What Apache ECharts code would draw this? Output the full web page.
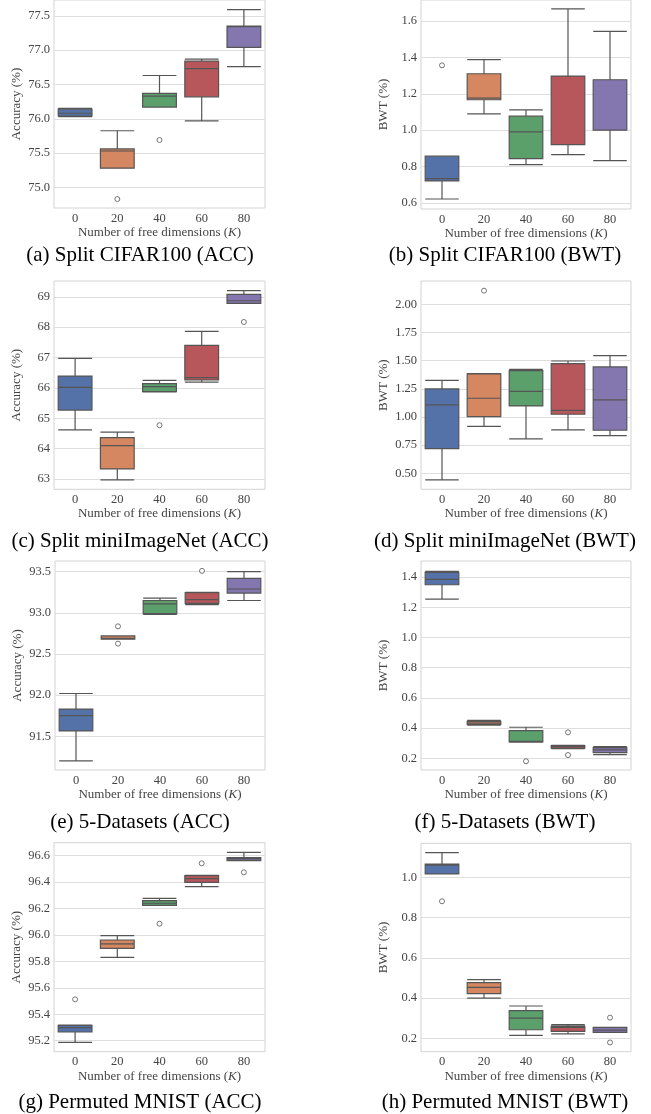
<!DOCTYPE html>
<html>
<head>
<meta charset="utf-8">
<script src="https://cdn.jsdelivr.net/npm/echarts@6/dist/echarts.min.js"></script>
<style>
html,body{margin:0;padding:0;background:#fff;}
#chart{width:651px;height:1114px;}
</style>
</head>
<body>
<div id="chart"></div>
<script>
// ---------------- data ----------------
const categories = ['0', '20', '40', '60', '80'];

// box stats per K: [lower whisker, Q1, median, Q3, upper whisker]
const statsA = [[76.03,76.04,76.08,76.14,76.15],[75.28,75.28,75.53,75.56,75.825],[76.17,76.17,76.33,76.37,76.63],[75.97,76.32,76.73,76.84,76.87],[76.76,77.04,77.34,77.35,77.59]];
const outliersA = [[1,74.83],[2,75.69]];
const ticksA = [75.0,75.5,76.0,76.5,77.0,77.5];

const statsB = [[0.622,0.721,0.734,0.857,0.857],[1.09,1.167,1.176,1.31,1.387],[0.811,0.844,0.991,1.077,1.112],[0.866,0.92,0.921,1.297,1.666],[0.833,1.0,1.001,1.277,1.543]];
const outliersB = [[0,1.356]];
const ticksB = [0.6,0.8,1.0,1.2,1.4,1.6];

const statsC = [[64.62,65.27,66.02,66.39,66.97],[62.97,63.33,64.10,64.36,64.54],[65.87,65.875,66.04,66.14,66.25],[66.19,66.26,66.34,67.40,67.86],[68.78,68.78,68.87,69.08,69.2]];
const outliersC = [[2,64.77],[4,68.17]];
const ticksC = [63,64,65,66,67,68,69];

const statsD = [[0.441,0.719,1.107,1.249,1.325],[0.917,1.003,1.166,1.382,1.385],[0.805,1.098,1.228,1.411,1.423],[0.885,1.024,1.059,1.473,1.497],[0.834,0.882,1.151,1.444,1.544]];
const outliersD = [[1,2.121]];
const ticksD = [0.5,0.75,1.0,1.25,1.5,1.75,2.0];

const statsE = [[91.20,91.565,91.75,91.83,92.02],[92.68,92.68,92.69,92.72,92.72],[92.98,92.99,93.11,93.15,93.18],[93.10,93.115,93.16,93.245,93.25],[93.15,93.24,93.29,93.42,93.5]];
const outliersE = [[1,92.836],[1,92.626],[3,93.51]];
const ticksE = [91.5,92.0,92.5,93.0,93.5];

const statsF = [[1.254,1.349,1.385,1.431,1.437],[0.419,0.425,0.434,0.445,0.452],[0.308,0.309,0.313,0.383,0.406],[0.264,0.267,0.278,0.284,0.286],[0.225,0.238,0.256,0.271,0.278]];
const outliersF = [[2,0.181],[3,0.372],[3,0.222]];
const ticksF = [0.2,0.4,0.6,0.8,1.0,1.2,1.4];

const statsG = [[95.188,95.266,95.299,95.316,95.319],[95.831,95.899,95.932,95.962,95.995],[96.224,96.224,96.24,96.26,96.277],[96.365,96.398,96.426,96.449,96.451],[96.562,96.562,96.575,96.585,96.625]];
const outliersG = [[0,95.513],[2,96.085],[3,96.542],[4,96.474]];
const ticksG = [95.2,95.4,95.6,95.8,96.0,96.2,96.4,96.6];

const statsH = [[1.017,1.017,1.06,1.066,1.123],[0.40,0.422,0.453,0.477,0.492],[0.215,0.243,0.301,0.338,0.361],[0.223,0.235,0.255,0.261,0.268],[0.23,0.23,0.241,0.255,0.255]];
const outliersH = [[0,0.881],[4,0.303],[4,0.18]];
const ticksH = [0.2,0.4,0.6,0.8,1.0];

const captions = ['(a) Split CIFAR100 (ACC)','(b) Split CIFAR100 (BWT)','(c) Split miniImageNet (ACC)','(d) Split miniImageNet (BWT)','(e) 5-Datasets (ACC)','(f) 5-Datasets (BWT)','(g) Permuted MNIST (ACC)','(h) Permuted MNIST (BWT)'];
const yNames = ['Accuracy (%)','BWT (%)','Accuracy (%)','BWT (%)','Accuracy (%)','BWT (%)','Accuracy (%)','BWT (%)'];
const xName = 'Number of free dimensions ({k|K})';

// ---------------- layout / style ----------------
const panels = [
  {stats:statsA, out:outliersA, ticks:ticksA, dec:1, min:74.70, max:77.73, left:54,  top:0,     w:211, h:208,   cap:255},
  {stats:statsB, out:outliersB, ticks:ticksB, dec:1, min:0.567, max:1.715, left:421, top:0,     w:210, h:209,   cap:255},
  {stats:statsC, out:outliersC, ticks:ticksC, dec:0, min:62.66, max:69.52, left:54,  top:281,   w:211, h:208.3, cap:541},
  {stats:statsD, out:outliersD, ticks:ticksD, dec:2, min:0.358, max:2.207, left:421, top:281,   w:210, h:208.3, cap:541},
  {stats:statsE, out:outliersE, ticks:ticksE, dec:1, min:91.09, max:93.63, left:55,  top:561,   w:210, h:209,   cap:822},
  {stats:statsF, out:outliersF, ticks:ticksF, dec:1, min:0.123, max:1.506, left:421, top:561,   w:210, h:209,   cap:822},
  {stats:statsG, out:outliersG, ticks:ticksG, dec:1, min:95.117,max:96.698,left:54,  top:842.7, w:211, h:209,   cap:1102},
  {stats:statsH, out:outliersH, ticks:ticksH, dec:1, min:0.134, max:1.169, left:421, top:843.3, w:210, h:208.4, cap:1102}
];
const boxColors = ['#5472a8','#d48760','#5b9f6b','#b8575b','#8476ae'];
const lineColor = '#555555';
const textColor = '#444444';
const serif = 'Liberation Serif';
const capCenters = [140, 505];

const grids = [], xAxes = [], yAxes = [], series = [], graphics = [];
panels.forEach((p, i) => {
  grids.push({left:p.left, top:p.top, width:p.w, height:p.h, show:true, borderColor:'#d3d3d3', borderWidth:1, backgroundColor:'#fff', containLabel:false});
  xAxes.push({
    type:'category', gridIndex:i, data:categories, boundaryGap:true,
    axisLine:{show:false}, axisTick:{show:false}, splitLine:{show:false},
    axisLabel:{color:textColor, fontFamily:serif, fontSize:12.5, margin:4},
    name:xName, nameLocation:'middle', nameGap:17,
    nameTextStyle:{color:textColor, fontFamily:serif, fontSize:13, rich:{k:{fontStyle:'italic', fontFamily:serif, fontSize:13, color:textColor}}}
  });
  yAxes.push({
    type:'value', gridIndex:i, min:p.min, max:p.max, scale:true,
    axisLine:{show:false},
    axisTick:{show:false, customValues:p.ticks},
    axisLabel:{customValues:p.ticks, color:textColor, fontFamily:serif, fontSize:12.5, margin:4,
      formatter:(v)=>Number(v).toFixed(p.dec)},
    splitLine:{show:true, lineStyle:{color:'#dedede', width:1}},
    name:yNames[i], nameLocation:'middle', nameRotate:90, nameGap:31,
    nameTextStyle:{color:textColor, fontFamily:serif, fontSize:13}
  });
  series.push({
    type:'boxplot', xAxisIndex:i, yAxisIndex:i, boxWidth:['80%','80%'],
    silent:true,
    itemStyle:{borderColor:lineColor, borderWidth:1.2},
    data:p.stats.map((s, k) => ({value:s, itemStyle:{color:boxColors[k], borderColor:lineColor}}))
  });
  series.push({
    type:'scatter', xAxisIndex:i, yAxisIndex:i, silent:true,
    symbol:'circle', symbolSize:5,
    itemStyle:{color:'#ffffff', borderColor:lineColor, borderWidth:1},
    data:p.out
  });
  graphics.push({
    type:'text', x:capCenters[i % 2], y:p.cap,
    style:{text:captions[i], fill:'#000', font:'21px "Liberation Serif"', textAlign:'center', textVerticalAlign:'middle'}
  });
});

const chart = echarts.init(document.getElementById('chart'), null, {renderer:'canvas'});
chart.setOption({
  backgroundColor:'#ffffff',
  animation:false,
  grid:grids, xAxis:xAxes, yAxis:yAxes, series:series, graphic:graphics
});
</script>
</body>
</html>
